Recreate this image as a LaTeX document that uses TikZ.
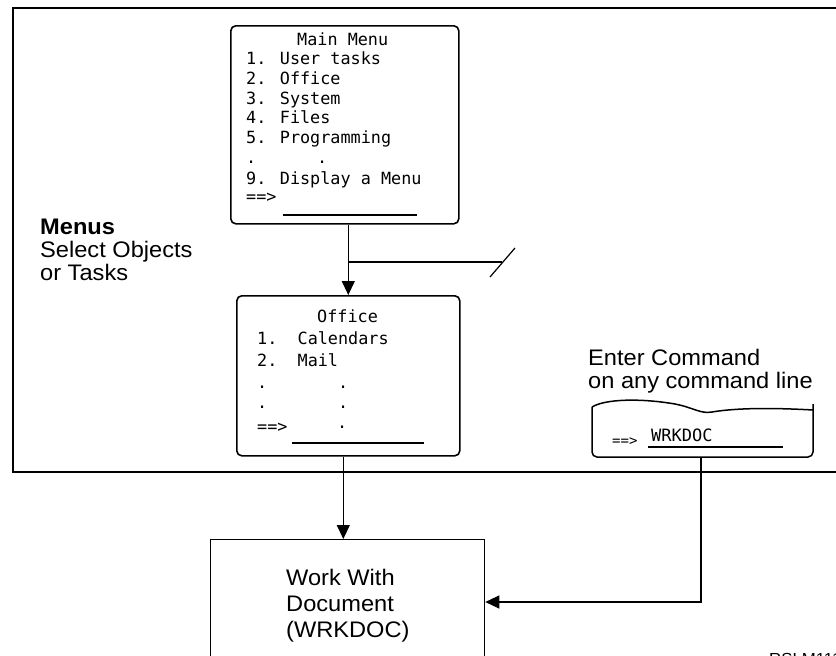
\documentclass[tikz,border=0pt]{standalone}
\usepackage{fontspec}
\setmainfont[FakeStretch=1.05]{Liberation Sans}
\newfontfamily\menufont{DejaVu Sans Mono}
\usetikzlibrary{arrows.meta}

\begin{document}
\begin{tikzpicture}[x=1pt,y=-1pt,
  frameline/.style={line width=1.2pt},
  screen/.style={draw, line width=1.6pt, rounded corners=5pt, inner sep=0pt, anchor=north west},
  plainbox/.style={draw, line width=1.3pt, inner sep=0pt, anchor=north west},
  mono/.style={anchor=base west, inner sep=0pt, font=\menufont\fontsize{16.8}{20}\selectfont},
  caption/.style={anchor=base west, inner sep=0pt, font=\fontsize{22.5}{24}\selectfont},
  entryline/.style={line width=1.3pt},
  flow/.style={line width=1.2pt, -{Triangle[width=13pt,length=14pt]}},
  link/.style={line width=1.2pt},
]
\useasboundingbox (0,0) rectangle (836,656);

% boundary of the menu area
\draw[frameline] (842,8) -- (13,8) -- (13,472) -- (842,472);

% side caption
\node[caption, font=\bfseries\fontsize{22.5}{24}\selectfont] (menushead) at (40,234) {Menus};
\node[caption] (menusl1) at (40,257) {Select Objects};
\node[caption] (menusl2) at (40,280) {or Tasks};

% main menu screen
\node[screen, minimum width=228pt, minimum height=198pt] (mainmenu) at (230,25) {};
\node[mono] (mm0) at (297,45) {Main Menu};
\node[mono] (mm1) at (246,64) {1. User tasks};
\node[mono] (mm2) at (246,84) {2. Office};
\node[mono] (mm3) at (246,104) {3. System};
\node[mono] (mm4) at (246,123) {4. Files};
\node[mono] (mm5) at (246,143) {5. Programming};
\node[mono] (mm6) at (246,163) {.~~~~~~.};
\node[mono] (mm7) at (246,184) {9. Display a Menu};
\node[mono] (mm8) at (246,202) {==>};
\draw[entryline] (283,215) -- (417,215);

% office menu screen
\node[screen, minimum width=223pt, minimum height=160pt] (office) at (236,295) {};
\node[mono] (of0) at (317,322) {Office};
\node[mono] (of1) at (257,344) {1.~~Calendars};
\node[mono] (of2) at (257,366) {2.~~Mail};
\node[mono] (of3) at (257,388) {.~~~~~~~.};
\node[mono] (of4) at (257,408) {.~~~~~~~.};
\node[mono] (of5) at (257,432) {==>};
\node[mono] (of6) at (337,428) {.};
\draw[entryline] (292,443) -- (424,443);

% command line snippet
\node[caption] (cmdl1) at (588,365) {Enter Command};
\node[caption] (cmdl2) at (588,388) {on any command line};
\node[inner sep=0pt, anchor=north west, minimum width=221pt, minimum height=50pt] (cmd) at (592,407) {};
\draw[line width=1.5pt, rounded corners=5pt]
  (813,404) -- (813,457) -- (592,457) -- (592,407);
\draw[line width=1.5pt]
  (592,407) .. controls (605,399) and (640,398) .. (675,404)
  .. controls (695,408) and (700,414) .. (712,412)
  .. controls (730,409) and (760,407) .. (813,410);
\node[mono, font=\menufont\fontsize{14}{16}\selectfont] (cmdprompt) at (612,445) {==>};
\node[mono, font=\menufont\fontsize{17}{20}\selectfont] (cmdtext) at (651,441) {WRKDOC};
\draw[entryline] (648,447) -- (783,447);
\coordinate (cmdout) at (701,457);

% target panel
\node[plainbox, minimum width=274pt, minimum height=140pt] (wrkdoc) at (210,539) {};
\node[caption] (wd1) at (286,585) {Work With};
\node[caption] (wd2) at (286,611) {Document};
\node[caption] (wd3) at (286,637) {(WRKDOC)};

% connectors
\coordinate (branchrow) at (0,262);
\coordinate (branchend) at (502,262);
\coordinate (slashlo) at (490,277);
\coordinate (slashhi) at (515,248);
\coordinate (arrowrow) at (0,602);
\draw[flow] (office.north |- mainmenu.south) -- (office.north);
\draw[link] (office.north |- branchrow) -- (branchend);
\draw[link] (slashlo) -- (slashhi);
\draw[flow] ([xshift=-5pt]office.south) -- ([xshift=-5pt]office.south |- wrkdoc.north);
\draw[flow] (cmdout) |- (wrkdoc.east |- arrowrow);

% figure id
\node[anchor=base west, inner sep=0pt, font=\fontsize{16}{18}\selectfont] (figid) at (769,664) {RSLM111};
\end{tikzpicture}
\end{document}
